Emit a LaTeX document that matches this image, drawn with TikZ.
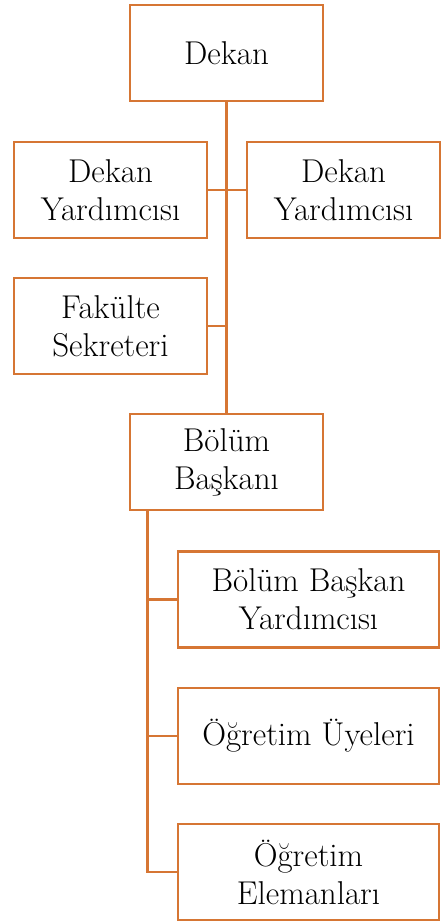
\documentclass[tikz,border=0pt]{standalone}
\usepackage{fontspec}
\usepackage{tikz}
\usetikzlibrary{calc,positioning}
\definecolor{orgline}{RGB}{214,118,52}
\tikzset{
    block/.style = {draw=orgline, rectangle, fill=white, line width=2.8pt,
        minimum height=96pt,
        minimum width=193pt, align=center,
        font=\fontsize{33}{38}\selectfont},
    subblock/.style = {block, minimum width=261pt},
    conn/.style = {draw=orgline, line width=2.8pt}
}

\begin{document}
\begin{tikzpicture}[x=1pt,y=-1pt]
            \useasboundingbox (0,0) rectangle (440,922);
            \node[block] (dekan) at (226.5,53) {Dekan};
            \node[block] (dy1) at (110.5,190) {Dekan\\Yardımcısı};
            \node[block] (dy2) at (343.5,190) {Dekan\\Yardımcısı};
            \node[block] (sekreter) at (110.5,326) {Fakülte\\Sekreteri};
            \node[block] (bolum) at (226.5,462) {Bölüm\\Başkanı};
            \node[subblock] (bby) at (308.5,599.5) {Bölüm Başkan\\Yardımcısı};
            \node[subblock] (uyeler) at (308.5,736) {Öğretim Üyeleri};
            \node[subblock] (elemanlar) at (308.5,872) {Öğretim\\Elemanları};
            \coordinate (bt) at ($(bolum.south west)+(19,0)$);
            \draw[conn] (dekan.south) -- (bolum.north);
            \draw[conn] (dy1.east) -- (dy2.west);
            \draw[conn] (sekreter.east) -- (sekreter.east -| dekan.south);
            \draw[conn] (bt) |- (elemanlar.west);
            \draw[conn] (bby.west) -- (bby.west -| bt);
            \draw[conn] (uyeler.west) -- (uyeler.west -| bt);
        \end{tikzpicture}
\end{document}
